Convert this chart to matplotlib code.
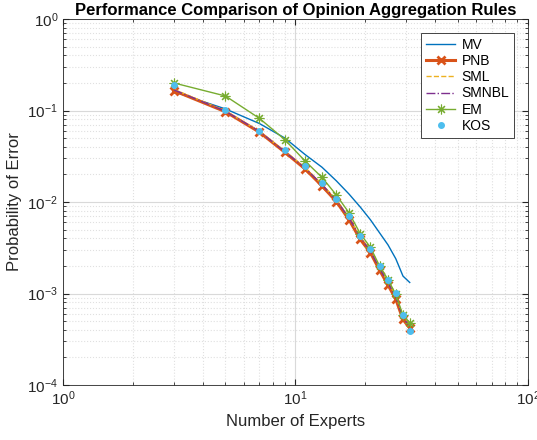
import matplotlib
matplotlib.use('Agg')
import matplotlib.pyplot as plt

plt.rcParams['font.family'] = ['Liberation Sans', 'DejaVu Sans']
plt.rcParams['mathtext.default'] = 'regular'

# Number of experts and error probability per aggregation rule
experts = [3, 5, 7, 9, 11, 13, 15, 17, 19, 21, 23, 25, 27, 29, 31]
err_mv = [0.160, 0.104, 0.072, 0.050, 0.033, 0.024, 0.0170, 0.0122, 0.0088,
          0.0064, 0.0046, 0.0034, 0.0024, 0.00155, 0.00132]
err_pnb = [0.165, 0.097, 0.058, 0.035, 0.023, 0.0150, 0.0101, 0.0064, 0.0039,
           0.0028, 0.0018, 0.00124, 0.00087, 0.00052, 0.00042]
err_sml = [0.170, 0.099, 0.059, 0.036, 0.0238, 0.0157, 0.0105, 0.0068, 0.0041,
           0.0030, 0.0019, 0.00133, 0.00095, 0.00056, 0.00046]
err_smnbl = [0.168, 0.098, 0.059, 0.0355, 0.0235, 0.0155, 0.0104, 0.0067, 0.0041,
             0.0029, 0.00188, 0.00130, 0.00092, 0.00054, 0.00044]
err_em = [0.200, 0.144, 0.082, 0.048, 0.028, 0.0186, 0.0119, 0.0076, 0.0045,
          0.0032, 0.0020, 0.00142, 0.00098, 0.00058, 0.00048]
err_kos = [0.190, 0.101, 0.060, 0.037, 0.0245, 0.0163, 0.0109, 0.0071, 0.0043,
           0.0031, 0.0020, 0.00141, 0.00102, 0.00058, 0.00039]

fig = plt.figure(figsize=(5.37, 4.4), dpi=100)
ax = fig.add_axes([0.1173, 0.125, 0.8659, 0.8318])

# line-drawn asterisk like MATLAB's '*'
asterisk = (8, 2, 0)

ax.loglog(experts, err_mv, color='#0072BD', lw=1.0, label='MV')
ax.loglog(experts, err_pnb, color='#D95319', lw=2.2, marker='x', ms=5.5, mew=2,
          label='PNB')
ax.loglog(experts, err_sml, color='#EDB120', lw=1.0, ls='--', label='SML')
ax.loglog(experts, err_smnbl, color='#7E2F8E', lw=1.0, ls='-.', label='SMNBL')
ax.loglog(experts, err_em, color='#77AC30', lw=1.0, marker=asterisk, ms=7,
          mew=0.8, label='EM')
ax.loglog(experts, err_kos, color='#4DBEEE', ls='none', marker='.', ms=8,
          label='KOS')

ax.set_xlim(1, 100)
ax.set_ylim(1e-4, 1)

# solid major grid, dotted minor grid
ax.grid(True, which='major', color='#d9d9d9', lw=0.8, ls='-')
ax.grid(True, which='minor', color='#e0e0e0', lw=0.8, ls=':')
ax.tick_params(which='both', direction='in', top=True, right=True,
               colors='#262626', labelsize=11)
ax.tick_params(which='major', length=4)
ax.tick_params(which='minor', length=2.5)
for sp in ax.spines.values():
    sp.set_color('#262626')
    sp.set_linewidth(0.6)

ax.set_xlabel('Number of Experts', fontsize=12, color='#262626')
ax.set_ylabel('Probability of Error', fontsize=12, color='#262626')
ax.set_title('Performance Comparison of Opinion Aggregation Rules',
             fontsize=12, fontweight='bold', pad=3)

leg = ax.legend(loc='upper right', bbox_to_anchor=(0.970, 0.962),
                borderaxespad=0, numpoints=1, fancybox=False,
                edgecolor='#262626', framealpha=1, fontsize=10,
                handlelength=2.1, borderpad=0.35, labelspacing=0.16,
                handletextpad=0.45)
leg.get_frame().set_linewidth(0.6)

fig.savefig('out.png', dpi=100)
